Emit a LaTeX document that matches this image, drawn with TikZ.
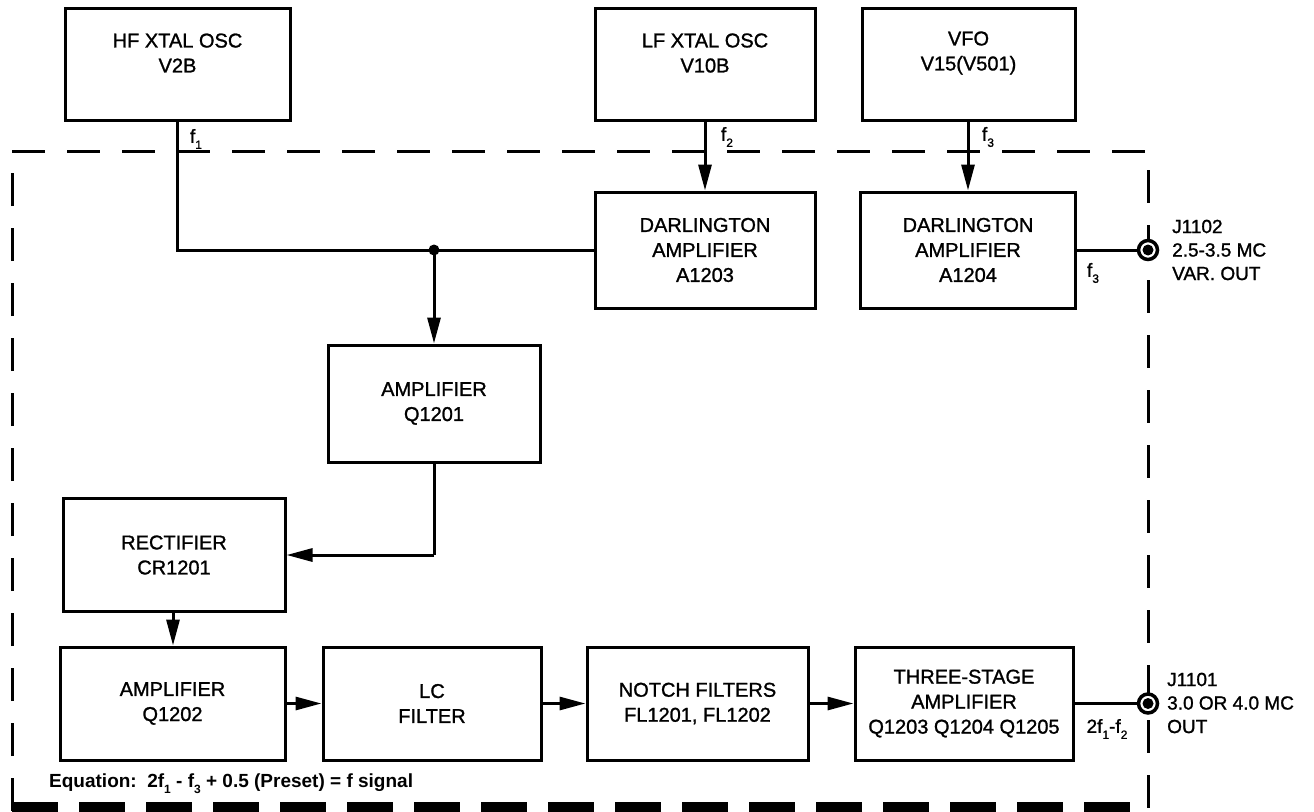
\documentclass[tikz,border=0pt]{standalone}
\usepackage{fontspec}
\setmainfont{Liberation Sans}
\newfontfamily\medfont{Liberation Sans}[FakeBold=1.2]
\usetikzlibrary{arrows.meta}
\newcommand\lsub[1]{\raisebox{-0.6ex}{\fontsize{12}{12}\selectfont #1}}
\begin{document}
\begin{tikzpicture}[x=1pt,y=-1pt,
  blk/.style={draw,line width=3pt,inner sep=0pt,align=center,
    font=\medfont\fontsize{20}{25}\selectfont},
  txt/.style={align=center,inner sep=0pt,font=\medfont\fontsize{20}{25}\selectfont},
  lbl/.style={align=left,anchor=west,inner sep=0pt,font=\medfont\fontsize{19}{23.5}\selectfont},
  flbl/.style={inner sep=0pt,font=\medfont\fontsize{19}{20}\selectfont},
  wire/.style={line width=3pt},
  arr/.style={line width=3pt,-{Triangle[length=26pt,width=13pt]}},
  border/.style={line width=3pt,dash pattern=on 33pt off 22pt},
  jack/.style={circle,draw,fill=white,line width=3.5pt,minimum size=19pt,inner sep=0pt},
]
\useasboundingbox (0,0) rectangle (1314,811);
\fill[white] (0,0) rectangle (1314,811);

% package border
\draw[border] (12,811) -- (12,151) -- (1148,151) -- (1148,811);
\draw[line width=11pt,dash pattern=on 46pt off 21pt] (12,807) -- (1148,807);

% blocks
\node[blk,minimum width=225,minimum height=112] (hf) at (177.5,64) {};
\node[txt] (hft) at (177.5,53) {HF XTAL OSC\\V2B};
\node[blk,minimum width=220,minimum height=112] (lf) at (705,64) {};
\node[txt] (lft) at (705,53) {LF XTAL OSC\\V10B};
\node[blk,minimum width=213,minimum height=112] (vfo) at (968.5,64) {};
\node[txt] (vfot) at (968.5,53) {VFO\\V15(V501)};

\node[blk,minimum width=220,minimum height=116] (da3) at (705,250) {DARLINGTON\\AMPLIFIER\\A1203};
\node[blk,minimum width=215,minimum height=116] (da4) at (968,250) {DARLINGTON\\AMPLIFIER\\A1204};
\node[blk,minimum width=212,minimum height=117] (q1201) at (434,403.5) {AMPLIFIER\\Q1201};
\node[blk,minimum width=222,minimum height=113] (rect) at (174,555) {RECTIFIER\\CR1201};
\node[blk,minimum width=225,minimum height=113] (q1202) at (172.5,703.5) {AMPLIFIER\\Q1202};
\node[blk,minimum width=218,minimum height=113] (lc) at (432,703.5) {LC\\FILTER};
\node[blk,minimum width=221,minimum height=113] (notch) at (697.5,703.5) {NOTCH FILTERS\\FL1201, FL1202};
\node[blk,minimum width=218,minimum height=113] (three) at (964,703.5) {THREE-STAGE\\AMPLIFIER\\Q1203 Q1204 Q1205};

% jacks
\node[jack] (j1102) at (1148,250) {};
\fill (j1102.center) circle (5.5);
\node[jack] (j1101) at (1148,703.5) {};
\fill (j1101.center) circle (5.5);

% connectors
\coordinate (j) at (434,250);
\draw[wire] (hf.south) -- (hf.south |- da3.west) -- (da3.west);
\fill (j) circle (5.5);
\draw[arr] (j) -- (q1201.north);
\draw[arr] (lf.south) -- (da3.north);
\draw[arr] (vfo.south -| da4.north) -- (da4.north);
\draw[wire] (da4.east) -- (j1102.west);
\draw[wire] (q1201.south) -- (q1201.south |- rect.east);
\draw[arr] (q1201.south |- rect.east) -- (rect.east);
\draw[arr] (rect.south -| 173,0) -- (q1202.north -| 173,0);
\draw[arr] (q1202.east) -- (lc.west);
\draw[arr] (lc.east) -- (notch.west);
\draw[arr] (notch.east) -- (three.west);
\draw[wire] (three.east) -- (j1101.west);

% signal labels
\node[flbl] (f1) at (196,139) {f\lsub{1}};
\node[flbl] (f2) at (727,137) {f\lsub{2}};
\node[flbl] (f3a) at (988,137) {f\lsub{3}};
\node[flbl] (f3b) at (1093,273) {f\lsub{3}};
\node[flbl] (f12) at (1107,729) {2f\lsub{1}-f\lsub{2}};

% jack labels
\node[lbl] (l1102) at (1172,250) {J1102\\2.5-3.5 MC\\VAR. OUT};
\node[lbl] (l1101) at (1167,703) {J1101\\3.0 OR 4.0 MC\\OUT};

% equation
\node[anchor=west,inner sep=0pt,font=\bfseries\fontsize{19}{20}\selectfont] (eq) at (49,784)
  {Equation:\ \ 2f\lsub{1} - f\lsub{3} + 0.5 (Preset) = f signal};
\end{tikzpicture}
\end{document}
